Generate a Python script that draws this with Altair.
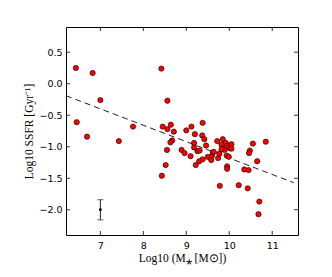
import altair as alt
import pandas as pd

# ---- data ----
mass = [6.43, 6.82, 7.00, 6.45, 6.69, 7.43, 7.76, 8.42,
        8.56, 8.45, 8.56, 8.64, 8.71, 8.67, 8.63, 8.55, 8.52, 8.43,
        9.00, 9.12, 9.20, 9.18, 9.18, 9.38, 9.37, 9.42, 9.46,
        8.89, 8.96, 9.10, 9.26, 9.31, 9.22, 9.30, 9.38, 9.50, 9.58,
        9.60, 9.62, 9.64, 9.74, 9.77, 9.72, 9.82, 9.85, 9.92, 9.89,
        9.82, 9.94, 10.00, 10.05, 10.05, 9.94, 9.99, 9.95, 9.95, 9.78,
        10.22, 10.35, 10.45, 10.43, 10.48, 10.46, 10.55, 10.65, 10.85,
        10.70, 10.68]
ssfr = [0.25, 0.17, -0.26, -0.61, -0.84, -0.91, -0.68, 0.24,
        -0.27, -0.68, -0.72, -0.65, -0.76, -0.90, -0.93, -1.05, -1.29, -1.46,
        -0.74, -0.68, -0.80, -0.94, -1.01, -0.62, -0.82, -0.88, -0.98,
        -1.05, -1.10, -1.15, -1.07, -1.06, -1.29, -1.23, -1.20, -1.16, -1.21,
        -1.14, -1.09, -1.08, -1.18, -1.11, -0.91, -0.97, -0.88, -0.94, -1.05,
        -1.04, -0.99, -1.02, -0.96, -1.03, -1.14, -1.16, -1.31, -1.35, -1.62,
        -1.61, -1.36, -1.37, -1.66, -1.06, -1.10, -0.95, -1.23, -0.92,
        -1.87, -2.07]

fit_x = [6.2, 11.5]
fit_y = [-0.19, -1.57]

err_x = [7.0]
err_y = [-2.0]
err_lo = [-2.16]
err_hi = [-1.84]

x_ticks = [7, 8, 9, 10, 11]
y_ticks = [-2.0, -1.5, -1.0, -0.5, 0.0, 0.5]

W, H = 232, 208
TL = 4  # inward tick length, px

pts = pd.DataFrame({"m": mass, "s": ssfr})
fit = pd.DataFrame({"m": fit_x, "s": fit_y})
err = pd.DataFrame({"m": err_x, "s": err_y, "lo": err_lo, "hi": err_hi})
xt = pd.DataFrame({"m": x_ticks})
yt = pd.DataFrame({"s": y_ticks})

xs = alt.Scale(domain=[6.2, 11.6], nice=False, zero=False)
ys = alt.Scale(domain=[-2.4, 0.9], nice=False, zero=False)

x_main = alt.Axis(values=x_ticks, format="d", tickSize=0, labelPadding=5,
                  domain=False, grid=False, title="Log10 (M\u204e [M\u2299])",
                  titlePadding=3)
y_main = alt.Axis(values=y_ticks, format=".1f", tickSize=0, labelPadding=4,
                  domain=False, grid=False, title="Log10 SSFR [Gyr\u207b\u00b9]",
                  titlePadding=4)

line = alt.Chart(fit).mark_line(color="#222222", strokeDash=[6, 4], strokeWidth=1).encode(
    x=alt.X("m:Q", scale=xs, axis=x_main),
    y=alt.Y("s:Q", scale=ys, axis=y_main),
)

points = alt.Chart(pts).mark_point(filled=True, shape="circle", size=28, fill="#ff0000",
                                   stroke="#000000", strokeWidth=0.6, opacity=1).encode(
    x=alt.X("m:Q", scale=xs), y=alt.Y("s:Q", scale=ys),
)

bar = alt.Chart(err).mark_rule(color="#222222", strokeWidth=1).encode(
    x=alt.X("m:Q", scale=xs), y=alt.Y("lo:Q", scale=ys), y2="hi:Q",
)
cap_lo = alt.Chart(err).mark_tick(color="#222222", orient="horizontal", size=6, thickness=1).encode(
    x=alt.X("m:Q", scale=xs), y=alt.Y("lo:Q", scale=ys))
cap_hi = alt.Chart(err).mark_tick(color="#222222", orient="horizontal", size=6, thickness=1).encode(
    x=alt.X("m:Q", scale=xs), y=alt.Y("hi:Q", scale=ys))
center = alt.Chart(err).mark_point(filled=True, shape="circle", size=8, color="#000000", opacity=1).encode(
    x=alt.X("m:Q", scale=xs), y=alt.Y("s:Q", scale=ys))

# inward ticks on all four sides
tick_style = dict(color="#000000", strokeWidth=0.8)
xb = alt.Chart(xt).mark_rule(**tick_style).encode(
    x=alt.X("m:Q", scale=xs), y=alt.value(H), y2=alt.value(H - TL))
xtp = alt.Chart(xt).mark_rule(**tick_style).encode(
    x=alt.X("m:Q", scale=xs), y=alt.value(0), y2=alt.value(TL))
yl = alt.Chart(yt).mark_rule(**tick_style).encode(
    y=alt.Y("s:Q", scale=ys), x=alt.value(0), x2=alt.value(TL))
yr = alt.Chart(yt).mark_rule(**tick_style).encode(
    y=alt.Y("s:Q", scale=ys), x=alt.value(W), x2=alt.value(W - TL))

chart = alt.layer(line, points, bar, cap_lo, cap_hi, center, xb, xtp, yl, yr).properties(
    width=W, height=H,
    autosize=alt.AutoSizeParams(type="none"),
    padding={"left": 58, "top": 19, "right": 20, "bottom": 30},
    background="white",
).configure_view(
    stroke="#000000", strokeWidth=1
).configure_axis(
    labelFont="DejaVu Sans", labelFontSize=9.5, labelColor="#000000",
    titleFont="Liberation Serif", titleFontSize=11.5, titleFontWeight="normal",
    titleColor="#000000",
)

chart.save("out.html", embed_options={"renderer": "svg", "actions": False})
